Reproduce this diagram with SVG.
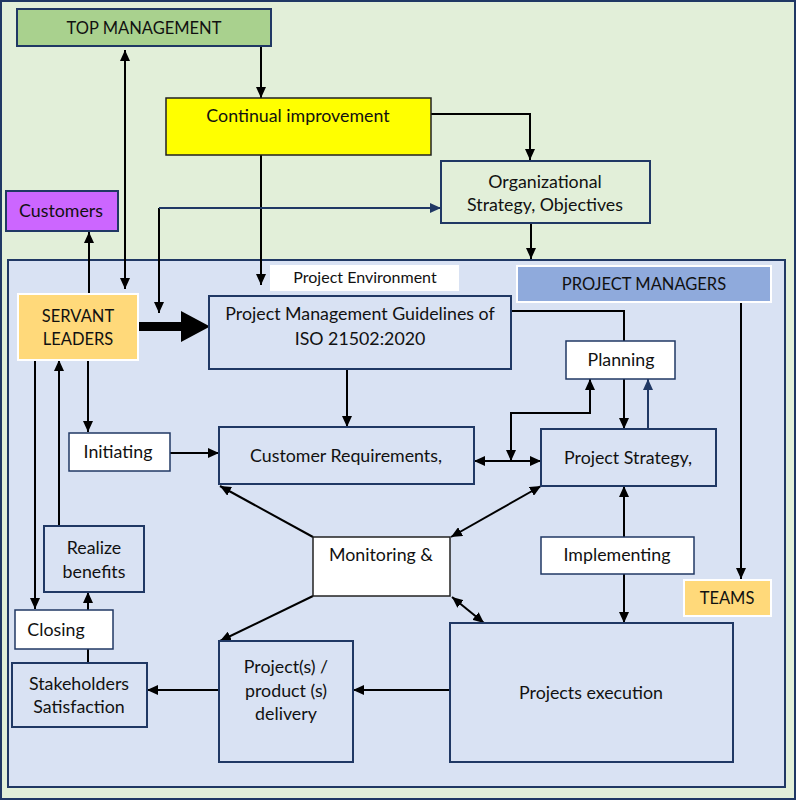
<svg xmlns="http://www.w3.org/2000/svg" width="796" height="800" viewBox="0 0 796 800">
<defs>
<style>
text{font-family:Lato,"Liberation Sans",sans-serif;font-size:17.8px;fill:#111;text-anchor:middle}
text.u{font-size:16.5px}
.box{stroke:#203864;stroke-width:2}
.wbox{fill:#fff;stroke:#203864;stroke-width:1.5}
.lt{stroke:#fff;stroke-width:2}
.c{fill:none;stroke:#000;stroke-width:2}
.cn{fill:none;stroke:#203864;stroke-width:2}
</style>
<marker id="a" markerUnits="userSpaceOnUse" markerWidth="12" markerHeight="10" refX="11" refY="5" orient="auto-start-reverse"><path d="M0,0 L11,5 L0,10 z" fill="#000"/></marker>
<marker id="an" markerUnits="userSpaceOnUse" markerWidth="12" markerHeight="10" refX="11" refY="5" orient="auto-start-reverse"><path d="M0,0 L11,5 L0,10 z" fill="#203864"/></marker>
</defs>
<rect x="1" y="1" width="794" height="798" fill="#e2efd9" stroke="#203864" stroke-width="2"/>
<rect x="8" y="260" width="777" height="527" fill="#d9e2f3" stroke="#203864" stroke-width="2"/>

<g id="connectors">
<path class="c" d="M261,46 V98" marker-end="url(#a)"/>
<path class="c" d="M125,50 V289" marker-start="url(#a)" marker-end="url(#a)"/>
<path class="c" d="M89,294 V232" marker-end="url(#a)"/>
<path class="c" d="M431,114 H530 V160" marker-end="url(#a)"/>
<path class="c" d="M261,155 V285" marker-end="url(#a)"/>
<path class="c" d="M531,223 V259" marker-end="url(#a)"/>
<path class="c" d="M159,313 V208" marker-start="url(#a)"/>
<path class="cn" d="M159,208 H441" marker-end="url(#an)"/>
<path d="M138,322 H181 V311 L210,326.5 L181,342 V331 H138 z" fill="#000"/>
<path class="c" d="M88,360 V432" marker-end="url(#a)"/>
<path class="c" d="M170,453 H219" marker-end="url(#a)"/>
<path class="c" d="M347,369 V427" marker-end="url(#a)"/>
<path class="c" d="M511,311 H624 V429" marker-end="url(#a)"/>
<path class="cn" d="M648,429 V379" marker-end="url(#an)"/>
<path class="c" d="M474,461 H541" marker-start="url(#a)" marker-end="url(#a)"/>
<path class="c" d="M511,461 V413 H590 V379" marker-start="url(#a)" marker-end="url(#a)"/>
<path class="c" d="M313,537 L220,486" marker-end="url(#a)"/>
<path class="c" d="M451,537 L541,486" marker-start="url(#a)" marker-end="url(#a)"/>
<path class="c" d="M313,596 L220,641" marker-end="url(#a)"/>
<path class="c" d="M452,597 L484,623" marker-start="url(#a)" marker-end="url(#a)"/>
<path class="c" d="M624,486 V623" marker-start="url(#a)" marker-end="url(#a)"/>
<path class="c" d="M741,302 V579" marker-end="url(#a)"/>
<path class="c" d="M450,690 H353" marker-end="url(#a)"/>
<path class="c" d="M219,690 H147" marker-end="url(#a)"/>
<path class="c" d="M88,663 V649"/>
<path class="c" d="M88,610 V592" marker-end="url(#a)"/>
<path class="c" d="M59,526 V360" marker-end="url(#a)"/>
<path class="c" d="M35,360 V609" marker-end="url(#a)"/>
</g>

<g id="top-management"><rect class="box" x="17" y="9" width="254" height="37" fill="#a9d18e"/><text class="u" x="144" y="34">TOP MANAGEMENT</text></g>
<g id="continual-improvement"><rect x="166" y="98" width="265" height="57" fill="#ffff00" stroke="#222" stroke-width="1.5"/><text x="298" y="122">Continual improvement</text></g>
<g id="organizational-strategy"><rect class="box" x="441" y="161" width="209" height="62" fill="#e2efd9"/><text x="545" y="188">Organizational</text><text x="545" y="211">Strategy, Objectives</text></g>
<g id="customers"><rect class="box" x="6" y="191" width="112" height="40" fill="#cc66ff"/><text x="61" y="217" fill="#1a1040">Customers</text></g>
<g id="project-environment"><rect x="270" y="265" width="189" height="26" fill="#fff"/><text x="365" y="283" style="font-size:16px">Project Environment</text></g>
<g id="project-managers"><rect class="lt" x="517" y="266" width="254" height="36" fill="#8faadc"/><text class="u" x="644" y="290">PROJECT MANAGERS</text></g>
<g id="servant-leaders"><rect class="lt" x="18" y="294" width="120" height="66" fill="#ffd97a"/><text class="u" x="78" y="322">SERVANT</text><text class="u" x="78" y="345">LEADERS</text></g>
<g id="pm-guidelines"><rect class="box" x="209" y="296" width="302" height="73" fill="#d9e2f3"/><text x="360" y="320">Project Management Guidelines of</text><text x="360" y="345">ISO 21502:2020</text></g>
<g id="planning"><rect class="wbox" x="566" y="341" width="109" height="38"/><text x="621" y="366">Planning</text></g>
<g id="initiating"><rect class="wbox" x="69" y="433" width="101" height="38"/><text x="118" y="458">Initiating</text></g>
<g id="customer-requirements"><rect class="box" x="219" y="427" width="255" height="57" fill="#d9e2f3"/><text x="346" y="462">Customer Requirements,</text></g>
<g id="project-strategy"><rect class="box" x="541" y="429" width="175" height="57" fill="#d9e2f3"/><text x="628" y="464">Project Strategy,</text></g>
<g id="monitoring"><rect x="313" y="537" width="137" height="59" fill="#fff" stroke="#222" stroke-width="1.5"/><text x="381" y="561">Monitoring &amp;</text></g>
<g id="implementing"><rect class="wbox" x="541" y="537" width="153" height="37"/><text x="617" y="561">Implementing</text></g>
<g id="teams"><rect class="lt" x="684" y="580" width="87" height="36" fill="#ffd97a"/><text class="u" x="727" y="604">TEAMS</text></g>
<g id="projects-execution"><rect class="box" x="450" y="623" width="283" height="139" fill="#d9e2f3"/><text x="591" y="699">Projects execution</text></g>
<g id="delivery"><rect class="box" x="219" y="641" width="134" height="121" fill="#d9e2f3"/><text x="286" y="673">Project(s) /</text><text x="286" y="697">product (s)</text><text x="286" y="720">delivery</text></g>
<g id="stakeholders"><rect class="box" x="12" y="663" width="135" height="64" fill="#d9e2f3"/><text x="79" y="690">Stakeholders</text><text x="79" y="713">Satisfaction</text></g>
<g id="closing"><rect class="wbox" x="15" y="610" width="98" height="39"/><text x="56" y="636">Closing</text></g>
<g id="realize-benefits"><rect class="box" x="44" y="526" width="100" height="66" fill="#d9e2f3"/><text x="94" y="554">Realize</text><text x="94" y="578">benefits</text></g>
</svg>
